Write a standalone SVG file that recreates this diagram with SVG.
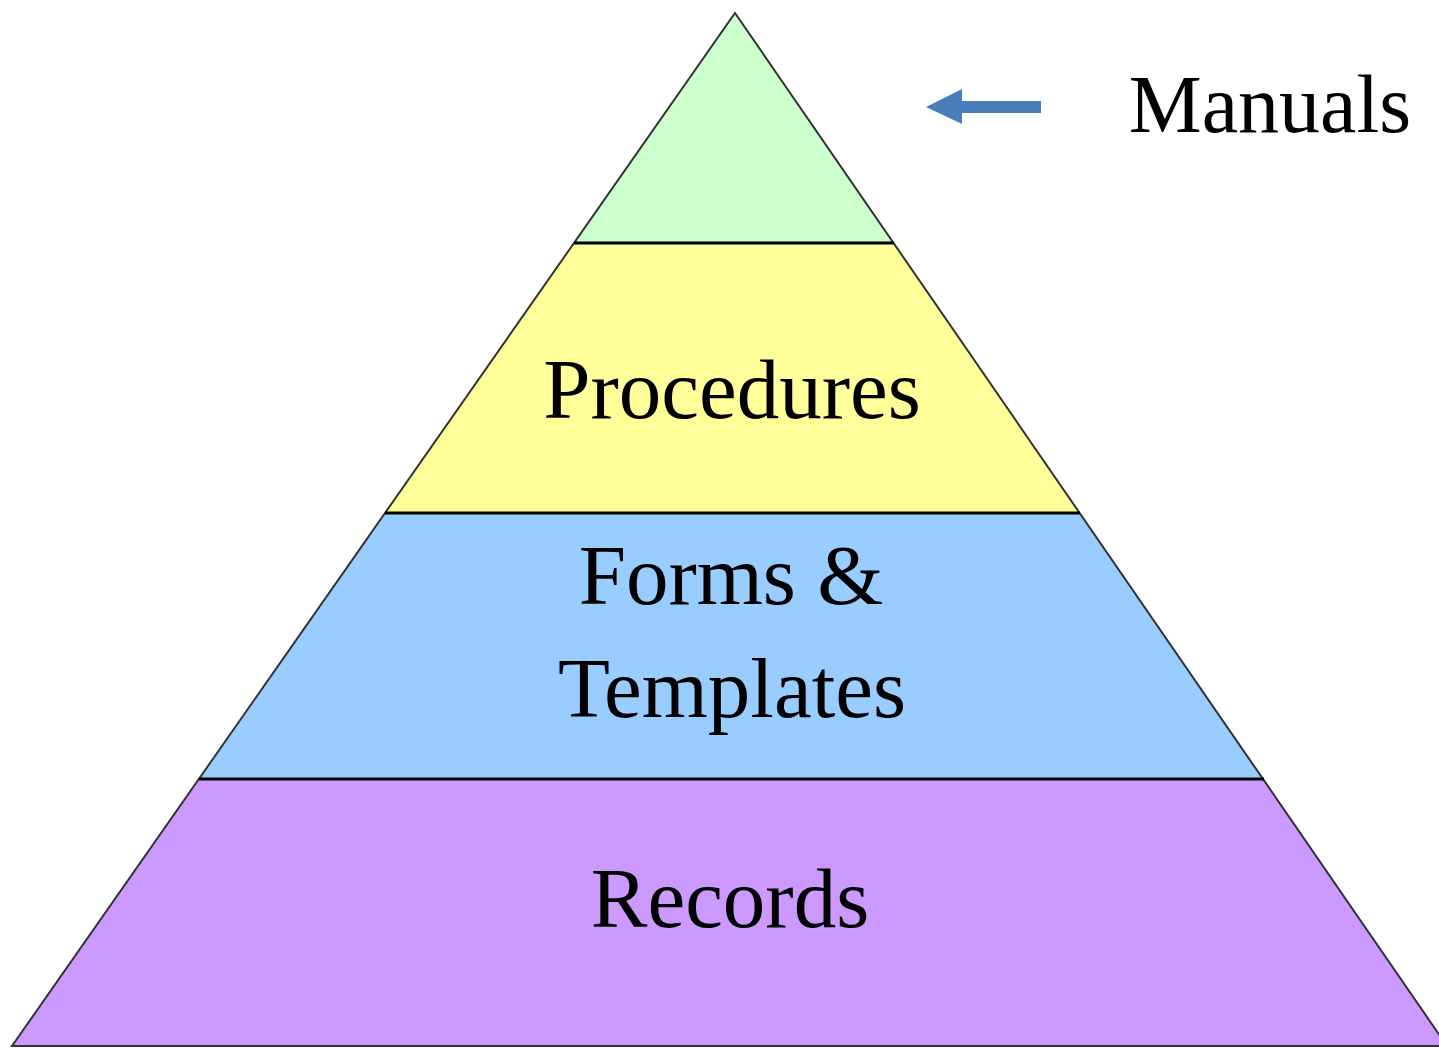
<svg xmlns="http://www.w3.org/2000/svg" width="1439" height="1048" viewBox="0 0 1439 1048">
<style>
.edge{fill:none;stroke:#333333;stroke-width:2;stroke-linejoin:miter}
.div{stroke:#000000;stroke-width:3}
.lbl{font-family:"Liberation Serif","Times New Roman",serif;font-size:85px;fill:#000000;text-anchor:middle}
.side{font-size:82px}
</style>
<rect width="1439" height="1048" fill="#ffffff"/>
<g id="manuals">
<polygon points="735,13 574,243 894,243" fill="#CCFFCC"/>
</g>
<g id="procedures">
<polygon points="574,243 894,243 1080,513 385,513" fill="#FFFF99"/>
<text class="lbl" x="732" y="418">Procedures</text>
</g>
<g id="forms">
<polygon points="385,513 1080,513 1264,779 199,779" fill="#99CCFF"/>
<text class="lbl" x="731" y="604">Forms &amp;</text>
<text class="lbl" x="732" y="717">Templates</text>
</g>
<g id="records">
<polygon points="199,779 1264,779 1447,1046 12,1046" fill="#CC99FF"/>
<text class="lbl" x="730" y="927">Records</text>
</g>
<g id="outline">
<polygon class="edge" points="735,13 1447,1046 12,1046"/>
</g>
<g id="connectors">
<line class="div" x1="574" y1="243" x2="894" y2="243"/>
<line class="div" x1="385" y1="513" x2="1080" y2="513"/>
<line class="div" x1="199" y1="779" x2="1264" y2="779"/>
<polygon points="926,107 962,89 962,101 1041,101 1041,113 962,113 962,124" fill="#4A7EBB"/>
</g>
<g id="manuals-label">
<text class="lbl side" x="1270" y="132">Manuals</text>
</g>
</svg>
